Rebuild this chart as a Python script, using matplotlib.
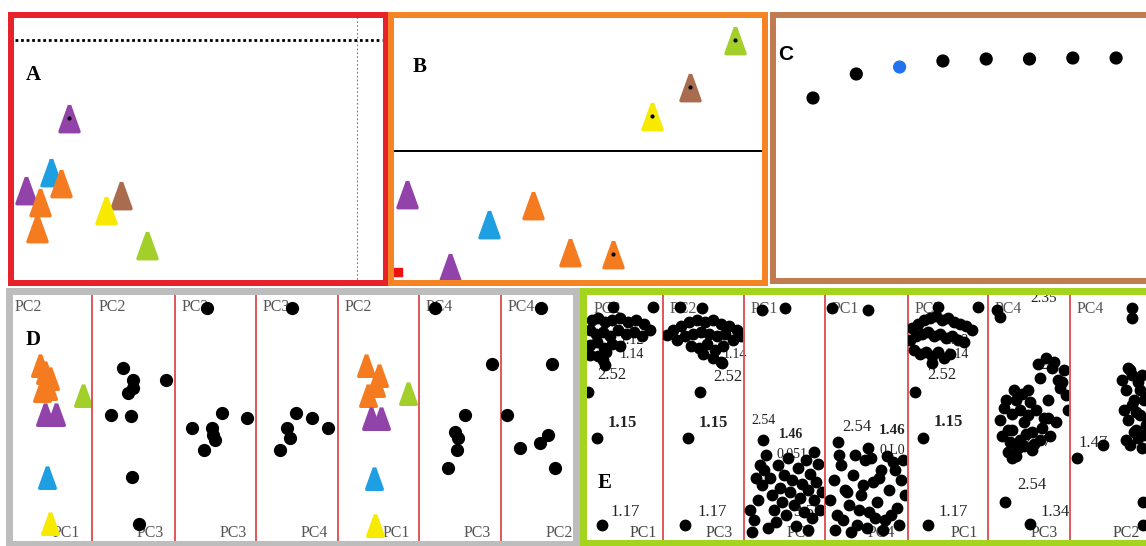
import matplotlib.pyplot as plt
from matplotlib.markers import MarkerStyle

# colours of the cultivar groups
PAL = {'purple': '#9243a9', 'blue': '#1d9fe2', 'orange': '#f47b20',
       'brown': '#a96c4e', 'yellow': '#f7ea00', 'green': '#a2cf2a'}

# A: score plot
a_x = [58, 40, 50, 15, 29, 26, 110, 95, 136]
a_y = [165, 111, 100, 93, 81, 55, 88, 73, 38]
a_col = ['purple', 'blue', 'orange', 'purple', 'orange', 'orange', 'brown', 'yellow', 'green']
a_hline, a_vline = 243, 346

# B: loadings-like score plot with reference point
b_x = [344, 299, 261, 16, 142, 98, 179, 222, 59]
b_y = [243, 196, 167, 89, 78, 59, 31, 29, 16]
b_col = ['green', 'brown', 'yellow', 'purple', 'orange', 'blue', 'orange', 'orange', 'purple']
b_dot = [0, 1, 2, 7]
b_ref_x, b_ref_y = [7], [11]
b_hline = 132

# C: explained variance per component
c_comp = [1, 2, 3, 4, 5, 6, 7, 8]
c_val = [183, 207, 214, 220, 222, 222, 223, 223]
c_sel = 3

# D: pairwise component plots
d_edges = [8, 92, 175, 256, 338, 419, 501, 573]
d_top = ['PC2', 'PC2', 'PC3', 'PC3', 'PC2', 'PC4', 'PC4']
d_bottom = ['PC1', 'PC3', 'PC3', 'PC4', 'PC1', 'PC3', 'PC2']
d1_x = [32, 37, 42, 34, 40, 37, 48, 75, 39, 42]
d1_y = [178, 171, 165, 153, 155, 129, 129, 148, 66, 20]
d1_col = ['orange', 'orange', 'orange', 'orange', 'orange', 'purple', 'purple', 'green', 'blue', 'yellow']
d2_x = [31, 41, 41, 36, 74, 19, 39, 40, 47]
d2_y = [175, 163, 155, 150, 163, 128, 127, 66, 19]
d3_x = [32, 17, 47, 37, 38, 40, 29, 72]
d3_y = [235, 115, 130, 115, 108, 103, 93, 125]
d4_x = [36, 40, 56, 72, 31, 34, 24]
d4_y = [235, 130, 125, 115, 115, 105, 93]
d5_x = [28, 41, 38, 30, 33, 43, 70, 36, 37]
d5_y = [178, 168, 158, 148, 125, 125, 150, 65, 18]
d5_col = ['orange', 'orange', 'orange', 'orange', 'purple', 'purple', 'green', 'blue', 'yellow']
d6_x = [16, 73, 46, 36, 39, 38, 29]
d6_y = [235, 179, 128, 111, 105, 93, 75]
d7_x = [40, 51, 6, 19, 39, 47, 54]
d7_y = [235, 179, 128, 95, 100, 108, 75]

# E: pairwise plots of all samples
e_edges = [587, 663, 744, 825, 908, 988, 1070, 1160]
e_top = ['PC2', 'PC2', 'PC1', 'PC1', 'PC2', 'PC4', 'PC4']
e_bottom = ['PC1', 'PC3', 'PC3', 'PC4', 'PC1', 'PC3', 'PC2']
e1_x = [5, 11, 18, 25, 33, 41, 49, 57, 63, 3, 9, 16, 23, 31, 39, 47, 55, 3, 10, 17, 25, 33,
        3, 11, 19, 16, 18, 26, 66, 1, 10, 15]
e1_y = [220, 222, 218, 220, 222, 218, 220, 216, 210, 210, 206, 208, 204, 210, 206, 208, 204,
        195, 198, 192, 196, 194, 185, 184, 188, 180, 175, 233, 233, 148, 102, 15]
e2_x = [4, 10, 18, 26, 34, 42, 50, 58, 66, 74, 78, 14, 22, 30, 38, 46, 54, 62, 70, 28, 36, 44,
        52, 60, 40, 50, 58, 17, 39, 59, 37, 25, 22]
e2_y = [205, 210, 214, 218, 220, 218, 220, 216, 214, 210, 204, 200, 204, 206, 208, 206, 204,
        206, 200, 194, 192, 196, 190, 194, 186, 182, 178, 233, 232, 177, 148, 102, 15]
e3_x = [6, 10, 14, 18, 20, 22, 26, 28, 30, 32, 34, 36, 38, 40, 42, 44, 46, 48, 50, 52, 54, 56,
        58, 60, 62, 64, 66, 68, 70, 72, 74, 76, 78, 12, 24, 8, 16, 64, 70, 18, 41, 19]
e3_y = [30, 20, 40, 55, 70, 85, 62, 45, 30, 18, 75, 52, 38, 65, 25, 82, 48, 60, 35, 14, 72, 42,
        56, 28, 80, 50, 66, 22, 40, 58, 76, 30, 48, 62, 12, 8, 75, 10, 88, 230, 232, 100]
e4_x = [5, 9, 12, 16, 20, 24, 28, 32, 36, 40, 44, 48, 52, 56, 60, 64, 68, 72, 76, 80, 10, 18,
        26, 34, 42, 50, 58, 66, 74, 14, 30, 46, 62, 78, 22, 38, 54, 70, 7, 43, 13, 43]
e4_y = [40, 60, 25, 75, 50, 35, 65, 15, 45, 80, 28, 58, 38, 70, 20, 50, 78, 32, 60, 45, 10, 20,
        8, 30, 12, 22, 10, 25, 15, 85, 85, 82, 84, 80, 48, 55, 62, 70, 232, 230, 98, 92]
e5_x = [4, 10, 16, 22, 28, 34, 40, 46, 52, 58, 64, 2, 8, 14, 20, 26, 32, 38, 44, 50, 56, 6, 12,
        18, 24, 30, 36, 42, 30, 70, 24, 7, 15, 20]
e5_y = [212, 216, 220, 222, 224, 220, 222, 218, 216, 214, 210, 200, 204, 206, 208, 204, 206,
        202, 204, 200, 198, 190, 186, 188, 184, 188, 182, 186, 233, 233, 177, 148, 102, 15]
e6_x = [12, 16, 20, 24, 28, 32, 36, 40, 44, 48, 52, 56, 60, 64, 68, 72, 76, 80, 14, 22, 30, 38,
        46, 54, 62, 70, 78, 18, 26, 34, 42, 50, 58, 66, 74, 20, 28, 36, 44, 52, 60, 24, 32, 40,
        9, 12, 24, 17, 42]
e6_y = [120, 132, 110, 126, 140, 100, 118, 150, 108, 130, 162, 122, 140, 172, 118, 152, 170,
        130, 104, 98, 92, 106, 96, 112, 104, 160, 145, 140, 150, 146, 138, 176, 182, 178, 158,
        88, 84, 94, 90, 100, 122, 110, 130, 125, 230, 223, 82, 38, 16]
e7_x = [52, 56, 60, 64, 68, 72, 76, 54, 58, 62, 66, 70, 74, 78, 56, 60, 64, 68, 72, 76, 58, 62,
        66, 70, 74, 62, 62, 33, 7, 73, 73]
e7_y = [160, 150, 170, 140, 158, 165, 145, 130, 120, 135, 110, 125, 140, 118, 100, 95, 108, 102,
        92, 115, 172, 165, 128, 150, 105, 232, 222, 95, 82, 38, 15]
e_notes = [
    [(45, 200, '1.12', 'normal', 10), (45, 186, '1.14', 'normal', 10), (25, 165, '2.52', 'normal', 12),
     (35, 117, '1.15', 'bold', 12), (38, 28, '1.17', 'normal', 12)],
    [(72, 186, '1.14', 'normal', 10), (65, 163, '2.52', 'normal', 12), (50, 117, '1.15', 'bold', 12),
     (49, 28, '1.17', 'normal', 12)],
    [(20, 119, '2.54', 'normal', 10), (47, 106, '1.46', 'bold', 10), (48, 86, '0.051', 'normal', 10),
     (64, 28, '3.55', 'normal', 12)],
    [(32, 113, '2.54', 'normal', 12), (67, 110, '1.46', 'bold', 11), (67, 90, '0.L0', 'normal', 10)],
    [(49, 200, '1.12', 'normal', 10), (49, 186, '1.14', 'normal', 10), (34, 165, '2.52', 'normal', 12),
     (40, 118, '1.15', 'bold', 12), (45, 28, '1.17', 'normal', 12)],
    [(56, 241, '2.35', 'normal', 11), (62, 175, '2.1', 'normal', 12), (49, 98, '2.17', 'normal', 12),
     (44, 55, '2.54', 'normal', 12), (67, 28, '1.34', 'normal', 12)],
    [(23, 97, '1.47', 'normal', 12)],
]

W, H = 1146, 546
fig = plt.figure(figsize=(W / 100, H / 100), dpi=100)
fig.patch.set_facecolor('white')

TRI = MarkerStyle([(0, 1), (-0.72, -1), (0.72, -1), (0, 1)], joinstyle='round')
SERIF = 'Liberation Serif'
SEP = '#e0575a'


def px_axes(left, top, right, bottom, z=1):
    ax = fig.add_axes([left / W, 1 - bottom / H, (right - left) / W, (bottom - top) / H], zorder=z)
    ax.set_xlim(0, right - left)
    ax.set_ylim(0, bottom - top)
    ax.set_xticks([])
    ax.set_yticks([])
    ax.patch.set_alpha(0)
    return ax


def frame(ax, color, width_px):
    for s in ax.spines.values():
        s.set_color(color)
        s.set_linewidth(width_px * 0.72)


def triangles(ax, xs, ys, cols, ms=19):
    for x, y, c in zip(xs, ys, cols):
        ax.plot(x, y, marker=TRI, ms=ms, color=PAL[c], mec=PAL[c], mew=2.5, ls='none')


# ---- A
axA = px_axes(11, 15, 386, 283)
frame(axA, '#e8222a', 6)
axA.axhline(a_hline, xmin=0.01, xmax=0.99, color='black', ls=(0, (1, 1)), lw=2)
axA.axvline(a_vline, color='#777777', ls=(0, (1.5, 2)), lw=0.8)
triangles(axA, a_x, a_y, a_col)
axA.plot(a_x[0], a_y[0], 'o', ms=2, color='black')
axA.text(22, 208, 'A', family=SERIF, weight='bold', fontsize=15, ha='center', va='center')

# ---- B
axB = px_axes(391, 15, 765, 283)
frame(axB, '#f58426', 6)
axB.axhline(b_hline, color='black', lw=1.4)
triangles(axB, b_x, b_y, b_col)
axB.plot([b_x[i] for i in b_dot], [b_y[i] for i in b_dot], 'o', ms=2, color='black', ls='none')
axB.plot(b_ref_x, b_ref_y, 's', ms=6, color='#ee1111')
axB.text(29, 216, 'B', family=SERIF, weight='bold', fontsize=15, ha='center', va='center')

# ---- C
axC = px_axes(773, 15, 1160, 281)
frame(axC, '#c07c50', 6)
axC.set_xlim(0.076, 0.076 + 387 / 43.3)
cols = ['#2272ee' if k == c_sel else 'black' for k in c_comp]
axC.scatter(c_comp, c_val, s=72, c=cols, marker='o')
axC.text(0.36, 226, 'C', family='Liberation Sans', weight='bold', fontsize=15, ha='center', va='center')

# ---- D
axD = px_axes(9, 291, 576, 544, z=3)
frame(axD, '#bdbdbd', 7)
d_data = [(d1_x, d1_y, d1_col), (d2_x, d2_y, None), (d3_x, d3_y, None), (d4_x, d4_y, None),
          (d5_x, d5_y, d5_col), (d6_x, d6_y, None), (d7_x, d7_y, None)]
for i, (xs, ys, cl) in enumerate(d_data):
    ax = px_axes(d_edges[i], 295, d_edges[i + 1], 543, z=2)
    for s in ax.spines.values():
        s.set_visible(False)
    if i > 0:
        ax.spines['left'].set_visible(True)
        ax.spines['left'].set_color(SEP)
        ax.spines['left'].set_linewidth(1.4)
    ax.text(7, 236, d_top[i], family=SERIF, fontsize=11.5, color='#555555', va='center', zorder=1)
    ax.text(58, 10, d_bottom[i], family=SERIF, fontsize=11.5, color='#555555', ha='center',
            va='center', zorder=1)
    if cl:
        triangles(ax, xs, ys, cl, ms=15.5)
    else:
        ax.plot(xs, ys, 'o', ms=8.5, color='black', ls='none', zorder=3)
    if i == 0:
        ax.text(25, 203, 'D', family=SERIF, weight='bold', fontsize=15, ha='center', va='center')

# ---- E
axE = px_axes(583, 291, 1160, 543, z=3)
frame(axE, '#a5d41e', 7)
e_data = [(e1_x, e1_y), (e2_x, e2_y), (e3_x, e3_y), (e4_x, e4_y), (e5_x, e5_y), (e6_x, e6_y),
          (e7_x, e7_y)]
for i, (xs, ys) in enumerate(e_data):
    ax = px_axes(e_edges[i], 295, e_edges[i + 1], 540, z=2)
    for s in ax.spines.values():
        s.set_visible(False)
    if i > 0:
        ax.spines['left'].set_visible(True)
        ax.spines['left'].set_color(SEP)
        ax.spines['left'].set_linewidth(1.4)
    ax.text(7, 231, e_top[i], family=SERIF, fontsize=11.5, color='#555555', va='center', zorder=1)
    ax.text(56, 7, e_bottom[i], family=SERIF, fontsize=11.5, color='#444444', ha='center',
            va='center', zorder=1)
    for x, y, s, w, fs in e_notes[i]:
        ax.text(x, y, s, family=SERIF, fontsize=fs, weight=w, color='#222222', ha='center',
                va='center', zorder=1)
    ax.plot(xs, ys, 'o', ms=7.5, color='black', ls='none', zorder=3)
    if i == 0:
        ax.text(18, 57, 'E', family=SERIF, weight='bold', fontsize=15, ha='center', va='center')

fig.savefig('out.png', dpi=100, facecolor='white')
